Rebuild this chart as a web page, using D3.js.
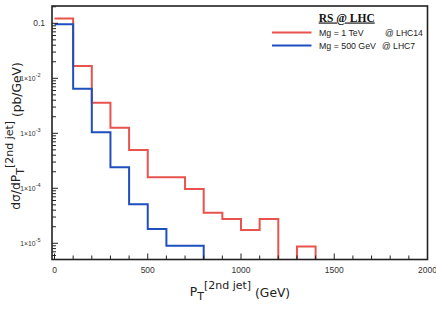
<!DOCTYPE html>
<html><head><meta charset="utf-8">
<script src="https://cdn.jsdelivr.net/npm/d3@7"></script>
<style>
html,body{margin:0;padding:0;background:#fff;}
svg{font-family:"Liberation Sans",Arial,sans-serif;}
</style></head>
<body><svg id="c" width="436" height="312"></svg>
<script>
// ---- data ----
const binEdges = [0,100,200,300,400,500,600,700,800,900,1000,1100,1200,1300,1400];
const redValues = [0.123,0.0168,0.0036,0.00126,0.000497,1.58e-4,1.58e-4,9.7e-5,3.6e-5,2.77e-5,1.75e-5,2.77e-5,0,8.7e-6];
const blueValues = [0.096,0.00648,0.00104,2.41e-4,5.1e-5,1.82e-5,9.0e-6,9.0e-6];
const xTicks = [0,500,1000,1500,2000];
const yTickExps = [-1,-2,-3,-4,-5];
const seriesNames = ["Mg = 1 TeV", "Mg = 500 GeV"];
const seriesTags = ["@ LHC14", "@ LHC7"];
const colors = ["#e8534e", "#1f4fbf"];

const svg = d3.select("#c");
const L=52, R=427.5, T=6, B=259.5;
const x = d3.scaleLinear().domain([-13.4,2000]).range([L,R]);
const y = d3.scaleLog().domain([Math.pow(10,-5.295), Math.pow(10,-0.685)]).range([B,T]);

svg.append("defs").append("clipPath").attr("id","clip")
  .append("rect").attr("x",L).attr("y",T).attr("width",R-L).attr("height",B-T);

function stepPoints(vals){
  const pts=[];
  vals.forEach((v,i)=>{
    const yy = v>0 ? y(v) : B+5;
    pts.push([x(binEdges[i]),yy],[x(binEdges[i+1]),yy]);
  });
  pts.push([x(binEdges[vals.length]),B+5]);
  return pts;
}
const line = d3.line();
[redValues, blueValues].forEach((vals,k)=>{
  svg.append("path").attr("clip-path","url(#clip)")
    .attr("d", line(stepPoints(vals)))
    .attr("fill","none").attr("stroke",colors[k]).attr("stroke-width",2)
    .attr("stroke-linejoin","miter");
});

// frame
svg.append("rect").attr("x",L).attr("y",T).attr("width",R-L).attr("height",B-T)
  .attr("fill","none").attr("stroke","#222").attr("stroke-width",1.6);

// x ticks (inward)
const gx = svg.append("g");
d3.range(0,2001,100).forEach(v=>{
  const major = v%500===0;
  gx.append("line").attr("x1",x(v)).attr("x2",x(v)).attr("y1",B).attr("y2",B-(major?6:4))
    .attr("stroke","#222").attr("stroke-width",1);
});
xTicks.forEach(v=>{
  gx.append("text").attr("x",x(v)).attr("y",272.5).attr("text-anchor","middle")
    .attr("font-size",8.5).attr("fill","#333").text(d3.format("d")(v));
});

// y ticks
const gy = svg.append("g");
for(let e=-6;e<=0;e++){
  for(let m=1;m<10;m++){
    const v=m*Math.pow(10,e);
    if(v<y.domain()[0]||v>y.domain()[1]) continue;
    gy.append("line").attr("x1",L).attr("x2",L+(m===1?6:4)).attr("y1",y(v)).attr("y2",y(v))
      .attr("stroke","#222").attr("stroke-width",1);
  }
}
yTickExps.forEach(e=>{
  if(e===-1){
    gy.append("text").attr("x",45).attr("y",y(Math.pow(10,e))+3)
      .attr("text-anchor","end").attr("font-size",8.5).attr("fill","#333").text("0.1");
  } else {
    const t = gy.append("text").attr("x",40.5).attr("y",y(Math.pow(10,e))+2.5)
      .attr("text-anchor","end").attr("font-size",6.8).attr("fill","#333");
    t.append("tspan").text("1×10");
    t.append("tspan").attr("dy",-3.5).attr("font-size",5.5).text("-"+(-e));
  }
});

// axis titles
const xt = svg.append("text").attr("x",240).attr("y",296).attr("text-anchor","middle")
  .attr("font-size",12.3).attr("fill","#222").style("font-family","'DejaVu Sans',sans-serif");
xt.append("tspan").text("P");
xt.append("tspan").attr("dy",3.5).attr("font-size",11).text("T");
xt.append("tspan").attr("dy",-11).attr("font-size",11).text("[2nd jet]");
xt.append("tspan").attr("dy",8).text(" (GeV)");

const yt = svg.append("text").attr("transform","translate(20,136) rotate(-90)").attr("text-anchor","middle")
  .attr("font-size",12.3).attr("fill","#222").style("font-family","'DejaVu Sans',sans-serif");
yt.append("tspan").text("dσ/dP");
yt.append("tspan").attr("dy",3.5).attr("font-size",11).text("T");
yt.append("tspan").attr("dy",-11).attr("font-size",11).text("[2nd jet]");
yt.append("tspan").attr("dy",8).text(" (pb/GeV)");

// legend
svg.append("text").attr("x",346.7).attr("y",21.5).attr("text-anchor","middle")
  .style("font-family","'Liberation Serif',serif").attr("font-weight","bold")
  .attr("font-size",11.5).attr("text-decoration","underline").attr("fill","#111").text("RS @ LHC");
seriesNames.forEach((n,i)=>{
  const yy = 32.5 + i*13;
  svg.append("line").attr("x1",272).attr("x2",311.5).attr("y1",yy).attr("y2",yy)
    .attr("stroke",colors[i]).attr("stroke-width",2);
  svg.append("text").attr("x",319).attr("y",yy+3.3).attr("font-size",8.8).attr("fill","#222").text(n);
  svg.append("text").attr("x",i===0?385:382).attr("y",yy+3.3).attr("font-size",8.6).attr("fill","#222").text(seriesTags[i]);
});
</script></body></html>
